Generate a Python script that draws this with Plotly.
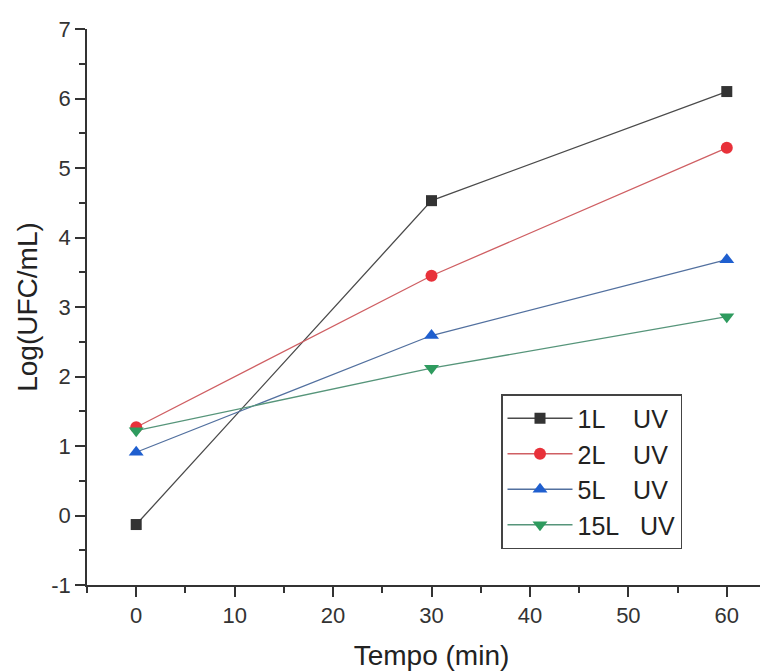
import plotly.graph_objects as go

tempo = [0, 30, 60]
series_names = ["1L\u00a0\u00a0\u00a0 UV", "2L\u00a0\u00a0\u00a0 UV", "5L\u00a0\u00a0\u00a0 UV", "15L\u00a0\u00a0 UV"]
log_1L = [-0.13, 4.53, 6.10]
log_2L = [1.27, 3.45, 5.29]
log_5L = [0.91, 2.59, 3.68]
log_15L = [1.22, 2.12, 2.86]

x_ticks = [0, 10, 20, 30, 40, 50, 60]
y_ticks = [-1, 0, 1, 2, 3, 4, 5, 6, 7]
y_tick_text = ["-1", "0", "1", "2", "3", "4", "5", "6", "7"]

styles = [
    dict(color="#333333", line="#4a4a4a", symbol="square", size=11),
    dict(color="#e8313a", line="#cf5f63", symbol="circle", size=12),
    dict(color="#1f5fcf", line="#52709f", symbol="triangle-up", size=13),
    dict(color="#2e9b5e", line="#56957a", symbol="triangle-down", size=13),
]

fig = go.Figure()
for name, vals, st in zip(series_names, [log_1L, log_2L, log_5L, log_15L], styles):
    fig.add_trace(go.Scatter(
        x=tempo, y=vals, name=name, mode="lines+markers",
        line=dict(color=st["line"], width=1.3),
        marker=dict(color=st["color"], symbol=st["symbol"], size=st["size"]),
    ))

font_family = "Liberation Sans, Arial, sans-serif"
# page body has an 8px margin: plot left at 87px, top at 29px in the window
fig.update_layout(
    width=768, height=671,
    margin=dict(l=79, r=0, t=21, b=94),
    plot_bgcolor="white", paper_bgcolor="white",
    font=dict(family=font_family, color="#222222", size=22),
    showlegend=True,
    legend=dict(
        x=(501 - 87) / 689, y=(585 - 394) / 556, xanchor="left", yanchor="top",
        bordercolor="#444444", borderwidth=1.5, bgcolor="white",
        font=dict(size=25, color="#222222"),
        itemwidth=65, tracegroupgap=0,
    ),
)
fig.update_xaxes(
    range=[-5, 65], tickvals=x_ticks, showgrid=False, zeroline=False, automargin=False,
    showline=True, linecolor="#333333", linewidth=1.5,
    ticks="outside", ticklen=10, tickwidth=1.5, tickcolor="#333333",
    tickfont=dict(size=22, color="#333333"),
    minor=dict(ticks="outside", ticklen=6, tickwidth=1.5, tickcolor="#333333", dtick=5, showgrid=False),
    title=dict(text="Tempo (min)", font=dict(size=28, color="#222222"), standoff=18),
)
fig.update_yaxes(
    range=[-1, 7], tickvals=y_ticks, ticktext=y_tick_text, showgrid=False, zeroline=False, automargin=False,
    showline=True, linecolor="#333333", linewidth=1.5,
    ticks="outside", ticklen=10, tickwidth=1.5, tickcolor="#333333",
    tickfont=dict(size=22, color="#333333"),
    minor=dict(ticks="outside", ticklen=6, tickwidth=1.5, tickcolor="#333333", dtick=0.5, showgrid=False),
    title=dict(text="Log(UFC/mL)", font=dict(size=28, color="#222222"), standoff=5),
)
fig.write_html("out.html")
